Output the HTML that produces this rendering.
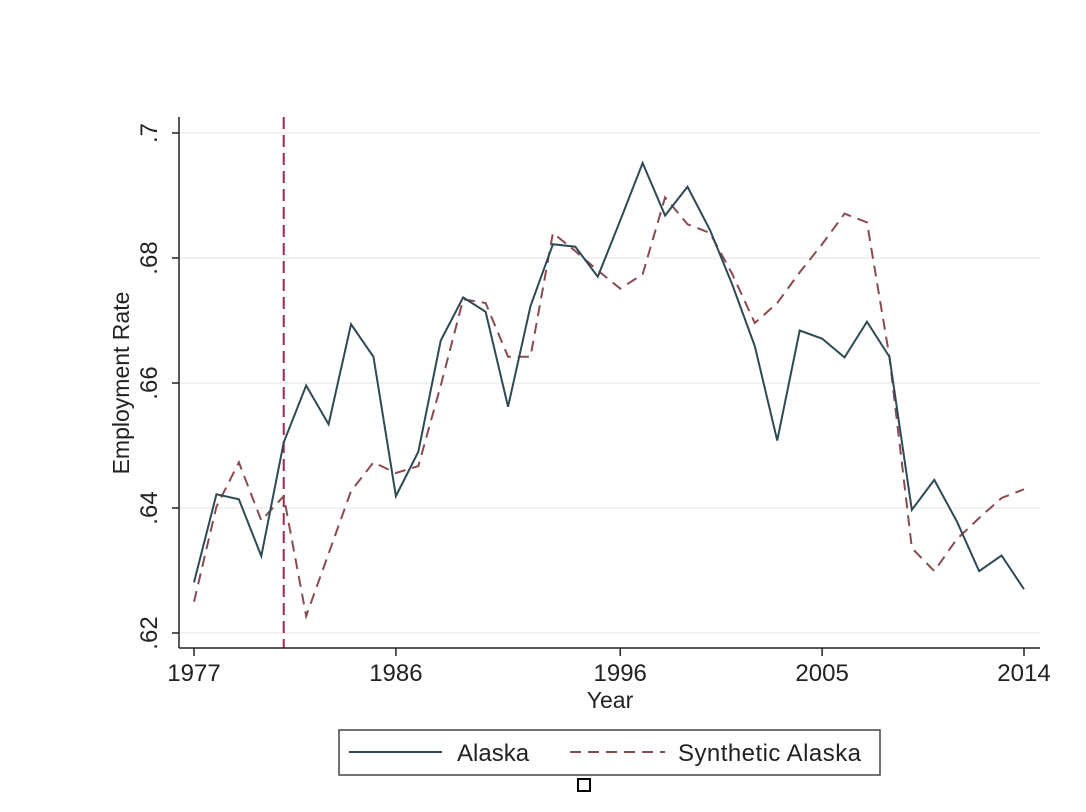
<!DOCTYPE html>
<html><head><meta charset="utf-8"><style>
body{margin:0;background:#fff;}
svg{display:block;font-family:"Liberation Sans",Arial,sans-serif;}
</style></head><body>
<svg id="chart" width="1086" height="812" viewBox="0 0 1086 812">
<rect x="0" y="0" width="1086" height="812" fill="#fff"/>
<g id="grid"></g>
<g id="yticks"></g>
<g id="xticks"></g>
<g id="series"></g>
<line x1="179" y1="117" x2="179" y2="648" stroke="#222" stroke-width="1.5"/>
<line x1="179" y1="648" x2="1040" y2="648" stroke="#222" stroke-width="1.5"/>
<text x="610" y="708" font-size="23" text-anchor="middle" fill="#222">Year</text>
<text transform="translate(129,383) rotate(-90)" font-size="23" text-anchor="middle" fill="#222">Employment Rate</text>
<g>
<rect x="339" y="730" width="541" height="45" fill="#fff" stroke="#444" stroke-width="1.5"/>
<line x1="349" y1="752" x2="442" y2="752" stroke="#2e4a55" stroke-width="2"/>
<text x="457" y="761" font-size="24" fill="#222">Alaska</text>
<line x1="570" y1="752" x2="665" y2="752" stroke="#8b4a50" stroke-width="2" stroke-dasharray="11,7"/>
<text x="678" y="761" font-size="24" textLength="183" fill="#222">Synthetic Alaska</text>
</g>
<rect x="578" y="779" width="12" height="12" fill="#fff" stroke="#000" stroke-width="2"/>
</svg>
<script>
const years=[];for(let y=1977;y<=2014;y++)years.push(y);
const alaska=[.6281,.6422,.6414,.6323,.6505,.6596,.6534,.6694,.6642,.6419,.6490,.6668,.6737,.6714,.6562,.6723,.6822,.6818,.6770,.6860,.6952,.6868,.6914,.6845,.6757,.6659,.6508,.6684,.6671,.6641,.6698,.6642,.6397,.6445,.6379,.6299,.6324,.6270];
const synthetic=[.6250,.6402,.6473,.6380,.6419,.6227,.6327,.6427,.6473,.6456,.6467,.6596,.6734,.6728,.6642,.6642,.6840,.6811,.6780,.6751,.6774,.6897,.6854,.6840,.6774,.6696,.6728,.6777,.6822,.6871,.6857,.6642,.6336,.6299,.6350,.6384,.6416,.6430];
const xTicks=[1977,1986,1996,2005,2014];
const yTicks=[.62,.64,.66,.68,.70];
const yTickLabels=[".62",".64",".66",".68",".7"];
const treatYear=1981;
const NS='http://www.w3.org/2000/svg';
function X(y){return 194+(y-1977)*(1024-194)/37;}
function Y(v){return 633-(v-.62)*(500/.08);}
function mk(tag,attrs,parent){const e=document.createElementNS(NS,tag);for(const k in attrs)e.setAttribute(k,attrs[k]);parent.appendChild(e);return e;}
const grid=document.getElementById('grid'),yt=document.getElementById('yticks'),xt=document.getElementById('xticks'),ser=document.getElementById('series');
yTicks.forEach((v,i)=>{
 const g=mk('line',{x1:180,x2:1040,y1:Y(v),y2:Y(v),stroke:'#e8eeee','stroke-width':1.5},grid);
 
 
 const t=mk('line',{x1:172,x2:179,y1:Y(v),y2:Y(v),stroke:'#222','stroke-width':1.5},yt);
 
 
 const l=mk('text',{transform:`translate(157,${Y(v)}) rotate(-90)`,'font-size':24,'text-anchor':'middle',fill:'#222'},yt);
 l.textContent=yTickLabels[i];
 
 
});
xTicks.forEach(y=>{
 const t=mk('line',{x1:X(y),x2:X(y),y1:648,y2:656,stroke:'#222','stroke-width':1.5},xt);
 
 
 const l=mk('text',{x:X(y),y:681,'font-size':24,'text-anchor':'middle',fill:'#222'},xt);
 l.textContent=y;
 
 
});
const vl=mk('line',{x1:X(treatYear),x2:X(treatYear),y1:117,y2:648,stroke:'#a3284f','stroke-width':2,'stroke-dasharray':'12,6'},ser);


const ps=mk('polyline',{points:synthetic.map((v,i)=>X(years[i])+','+Y(v)).join(' '),fill:'none',stroke:'#8b4a50','stroke-width':2,'stroke-dasharray':'11,7'},ser);


const pa=mk('polyline',{points:alaska.map((v,i)=>X(years[i])+','+Y(v)).join(' '),fill:'none',stroke:'#2e4a55','stroke-width':2},ser);


</script>
</body></html>
